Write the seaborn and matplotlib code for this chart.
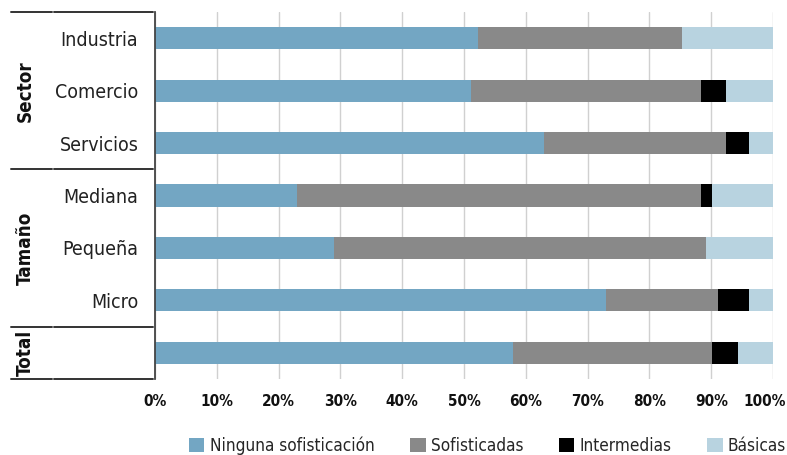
import matplotlib
matplotlib.use("Agg")
import matplotlib.pyplot as plt
import matplotlib.transforms as mtransforms
from matplotlib.patches import Patch
from matplotlib.lines import Line2D
from matplotlib import font_manager
import seaborn as sns
import pandas as pd

categories = ["Industria", "Comercio", "Servicios", "Mediana", "Pequeña", "Micro", "Total"]
tick_labels = ["Industria", "Comercio", "Servicios", "Mediana", "Pequeña", "Micro", ""]
ninguna = [52.2, 51.2, 63.0, 23.0, 29.0, 73.0, 58.0]
sofisticadas = [33.0, 37.1, 29.4, 65.3, 60.2, 18.1, 32.2]
intermedias = [0.0, 4.1, 3.7, 1.9, 0.0, 5.0, 4.1]
basicas = [14.8, 7.6, 3.9, 9.8, 10.8, 3.9, 5.7]
series_names = ["Ninguna sofisticación", "Sofisticadas", "Intermedias", "Básicas"]
groups = ["Sector", "Tamaño", "Total"]
group_sizes = [3, 3, 1]
ticks = [0, 10, 20, 30, 40, 50, 60, 70, 80, 90, 100]

colors = ["#73A6C3", "#898989", "#000000", "#B8D3E0"]

sns.set_theme(style="white")

condensed = [f for f in font_manager.fontManager.ttflist
             if f.name == "DejaVu Sans" and str(f.stretch).lower() in ("condensed", "semi-condensed")
             or "Condensed" in f.fname]
plt.rcParams["font.family"] = ["DejaVu Sans"]
if condensed:
    plt.rcParams["font.stretch"] = "condensed"
    k = 1.0
else:
    k = 0.9

fig = plt.figure(figsize=(7.87, 4.55), dpi=100)
ax = fig.add_axes([155/787, 1 - 379/455, 618/787, (379 - 12)/455])

df = pd.DataFrame({"cat": categories, "n": ninguna, "s": sofisticadas,
                   "i": intermedias, "b": basicas})
cols = ["n", "s", "i", "b"]
cum = df[cols].cumsum(axis=1)
for col, c in reversed(list(zip(cols, colors))):
    sns.barplot(x=cum[col], y=df["cat"], order=categories, color=c,
                width=0.42, ax=ax, orient="h", saturation=1, linewidth=0)

ax.set_xlim(0, 100)
ax.set_ylim(6.5, -0.5)
ax.set_xticks(ticks)
ax.set_xticklabels([f"{t}%" for t in ticks], fontsize=11 * k, fontweight="bold", color="#111111")
ax.set_yticks(range(len(categories)))
ax.set_yticklabels(tick_labels, fontsize=14 * k, color="#222222")
ax.tick_params(axis="y", length=0, pad=12)
ax.tick_params(axis="x", length=0, pad=11)
last = ax.get_xticklabels()[-1]
last.set_transform(last.get_transform() + mtransforms.ScaledTranslation(-8/100, 0, fig.dpi_scale_trans))
ax.set_xlabel("")
ax.set_ylabel("")
ax.xaxis.grid(True, color="#D0D0D0", linewidth=1)
ax.set_axisbelow(True)
for s in ["top", "right", "bottom"]:
    ax.spines[s].set_visible(False)
ax.spines["left"].set_color("#444444")
ax.spines["left"].set_linewidth(1.3)

trans = mtransforms.blended_transform_factory(ax.transAxes, ax.transData)
bounds = [-0.5]
for g in group_sizes:
    bounds.append(bounds[-1] + g)
x0, x1, x2, x3 = -144/618, -103/618, -101/618, -2/618
for b in bounds:
    for a, z in [(x0, x1), (x2, x3)]:
        ax.add_line(Line2D([a, z], [b, b], transform=trans, color="#333333",
                           linewidth=1.4, clip_on=False))
for gname, lo, hi in zip(groups, bounds[:-1], bounds[1:]):
    ax.text(-130/618, (lo + hi) / 2, gname, transform=trans, rotation=90,
            ha="center", va="center", fontsize=13.5 * k, fontweight="bold", color="#111111")

handles = [Patch(facecolor=c, edgecolor="none") for c in colors]
fig.legend(handles, series_names, loc="center right", bbox_to_anchor=(0.999, 1 - 446/455),
           ncol=4, frameon=False, fontsize=12.3 * k, handlelength=0.9, handleheight=0.9,
           handletextpad=0.3, columnspacing=2.1, borderaxespad=0, borderpad=0)

fig.savefig("out.png", dpi=100)
